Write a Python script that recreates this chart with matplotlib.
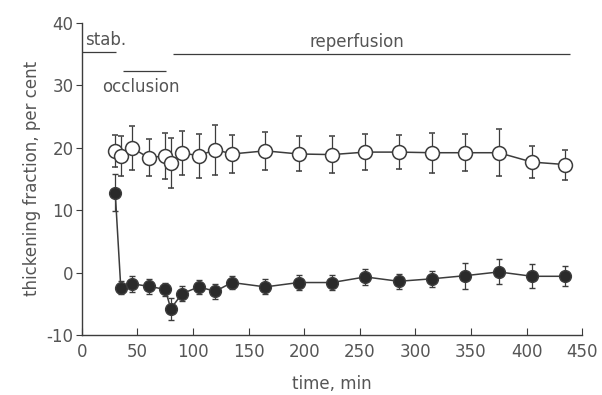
import matplotlib
matplotlib.use("Agg")
import matplotlib.pyplot as plt

plt.rcParams["axes.unicode_minus"] = False

# time points (min)
time = [30, 35, 45, 60, 75, 80, 90, 105, 120, 135, 165, 195, 225, 255, 285,
        315, 345, 375, 405, 435]

# open circles (control)
open_mean = [19.5, 18.6, 20.0, 18.4, 18.7, 17.6, 19.2, 18.7, 19.7, 19.0, 19.5,
             19.0, 18.9, 19.3, 19.3, 19.2, 19.2, 19.2, 17.7, 17.3]
open_err = [2.6, 3.2, 3.5, 3.0, 3.7, 4.0, 3.5, 3.5, 4.0, 3.0, 3.0,
            2.8, 2.9, 2.9, 2.7, 3.2, 3.0, 3.8, 2.6, 2.4]

# filled circles (ischemic)
filled_mean = [12.8, -2.4, -1.8, -2.2, -2.7, -5.8, -3.4, -2.3, -3.0, -1.6, -2.3,
               -1.6, -1.6, -0.7, -1.4, -1.0, -0.5, 0.1, -0.6, -0.6]
filled_err = [3.0, 1.0, 1.3, 1.2, 1.0, 1.8, 1.2, 1.1, 1.2, 1.0, 1.2,
              1.2, 1.2, 1.3, 1.2, 1.3, 2.1, 2.0, 1.9, 1.6]

# protocol periods: (start, end, line level)
periods = [(0, 31, 35.3),    # stab.
           (37, 76, 32.3),   # occlusion
           (82, 439, 35.0)]  # reperfusion

ink = "#3c3c3c"
txt = "#555555"

fig = plt.figure(figsize=(6.02, 3.95), dpi=100)
ax = fig.add_axes([0.136, 0.152, 0.831, 0.79])

ax.errorbar(time, open_mean, yerr=open_err, color=ink, lw=1.1, marker="o",
            ms=10, mfc="white", mec=ink, mew=1.1, capsize=2.5, elinewidth=0.9,
            zorder=3)
ax.errorbar(time, filled_mean, yerr=filled_err, color=ink, lw=1.1, marker="o",
            ms=8.5, mfc="#2a2a2a", mec=ink, mew=1.0, capsize=2.5, elinewidth=0.9,
            zorder=3)

for x0, x1, lev in periods:
    ax.plot([x0, x1], [lev, lev], color=ink, lw=0.9, solid_capstyle="butt")

ax.text(3, 35.8, "stab.", color=txt, fontsize=12, ha="left", va="bottom")
ax.text(18, 29.8, "occlusion", color=txt, fontsize=12, ha="left", va="center")
ax.text(247, 35.5, "reperfusion", color=txt, fontsize=12, ha="center", va="bottom")

ax.set_xlim(0, 450)
ax.set_ylim(-10, 40)
ax.set_xticks(range(0, 451, 50))
ax.set_yticks(range(-10, 41, 10))
ax.spines["top"].set_visible(False)
ax.spines["right"].set_visible(False)
for s in ("left", "bottom"):
    ax.spines[s].set_color(ink)
    ax.spines[s].set_linewidth(1.0)
ax.tick_params(axis="x", direction="in", length=5, color=ink, labelcolor=txt,
               labelsize=12, pad=6)
ax.tick_params(axis="y", direction="out", length=4, color=ink, labelcolor=txt,
               labelsize=12, pad=2)

ax.set_xlabel("time, min", color=txt, fontsize=12, labelpad=10)
ax.set_ylabel("thickening fraction, per cent", color=txt, fontsize=12, labelpad=4)

fig.savefig("out.png", dpi=100)
